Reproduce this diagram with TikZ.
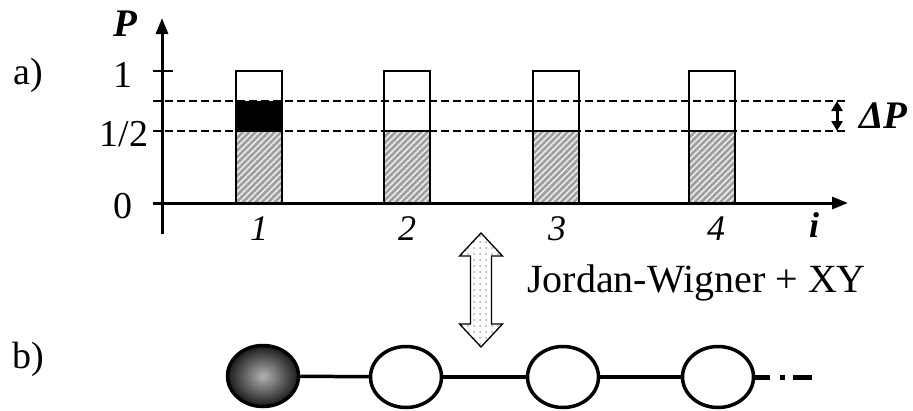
\documentclass[tikz,border=0pt]{standalone}
\usepackage{fontspec}
\setmainfont{Liberation Serif}
\usetikzlibrary{arrows.meta,shapes.geometric,patterns,patterns.meta}
\begin{document}
\begin{tikzpicture}[x=1pt,y=-1pt,
  lbl/.style={font=\fontsize{38}{40}\selectfont, inner sep=0pt, anchor=base},
  ilbl/.style={font=\fontsize{36}{40}\selectfont\itshape, inner sep=0pt, anchor=base},
  bilbl/.style={font=\fontsize{39}{40}\selectfont\bfseries\itshape, inner sep=0pt, anchor=base},
  axisline/.style={line width=3pt, -{Triangle[length=16pt,width=12pt]}},
  dashline/.style={line width=2pt, dash pattern=on 8pt off 4pt},
  barbox/.style={draw, line width=1.5pt},
  site/.style={ellipse, draw, line width=3.5pt, minimum width=71pt, minimum height=61pt, inner sep=0pt},
  bond/.style={line width=3.5pt}
]
\useasboundingbox (0,0) rectangle (913,410);

% bars
\foreach \x in {236,384,533,689}{
  \fill[gray!75] (\x,131) rectangle (\x+46,203);
  \fill[pattern={Lines[angle=45,distance=4.5pt,line width=1.6pt]}, pattern color=white!85!gray] (\x,131) rectangle (\x+46,203);
  \draw[barbox] (\x,71) rectangle (\x+46,203);
  \draw[line width=1.2pt] (\x,131) -- (\x+46,131);
}
\fill[black] (236,101) rectangle (282,131);

% dashed levels
\draw[dashline] (153,101) -- (847,101);
\draw[dashline] (153,131) -- (847,131);

% axes
\draw[axisline] (162,234) -- (162,18);
\draw[axisline] (153,203) -- (848,203);
\draw[line width=2pt] (153,71) -- (173,71);

% Delta P arrow
\draw[line width=3pt, {Triangle[length=10pt,width=11pt]}-{Triangle[length=10pt,width=11pt]}] (837,101) -- (837,131);

% labels
\node[bilbl] (Plab) at (125,36) {P};
\node[bilbl, anchor=base west] (dP) at (859,128) {ΔP};
\node[lbl] (a) at (28,84) {a)};
\node[lbl] (one) at (123,87) {1};
\node[lbl] (half) at (124,146) {1/2};
\node[lbl] (zero) at (123,218) {0};
\node[ilbl] (i1) at (259,240) {1};
\node[ilbl] (i2) at (407,240) {2};
\node[ilbl] (i3) at (557,240) {3};
\node[ilbl] (i4) at (716,240) {4};
\node[ilbl] (ii) at (814,237) {\bfseries i};
\node[lbl] (b) at (28,368) {b)};
\node[font=\fontsize{40}{44}\selectfont, inner sep=0pt, anchor=base west] (jw) at (527,292) {Jordan-Wigner + XY};

% double arrow
\path[fill=white] (481,233) -- (502.5,256) -- (491.5,256) -- (491.5,324) -- (502.5,324) -- (481,347) -- (459.5,324) -- (470.5,324) -- (470.5,256) -- (459.5,256) -- cycle;
\path[pattern={Dots[distance=6pt,radius=1pt]}, pattern color=gray!70] (481,233) -- (502.5,256) -- (491.5,256) -- (491.5,324) -- (502.5,324) -- (481,347) -- (459.5,324) -- (470.5,324) -- (470.5,256) -- (459.5,256) -- cycle;
\draw[line width=1.3pt, line join=miter] (481,233) -- (502.5,256) -- (491.5,256) -- (491.5,324) -- (502.5,324) -- (481,347) -- (459.5,324) -- (470.5,324) -- (470.5,256) -- (459.5,256) -- cycle;

% chain
\node[site, inner color=gray!60, outer color=black!90] (s1) at (263,376) {};
\node[site] (s2) at (406,377) {};
\node[site] (s3) at (563,377) {};
\node[site] (s4) at (718,377) {};
\coordinate (e) at (812,377);
\draw[bond] (s1) -- (s2);
\draw[bond] (s2) -- (s3);
\draw[bond] (s3) -- (s4);
\draw[line width=5pt, dash pattern=on 15pt off 10pt on 5pt off 8pt on 20pt] (s4.east) -- (e);
\end{tikzpicture}
\end{document}
